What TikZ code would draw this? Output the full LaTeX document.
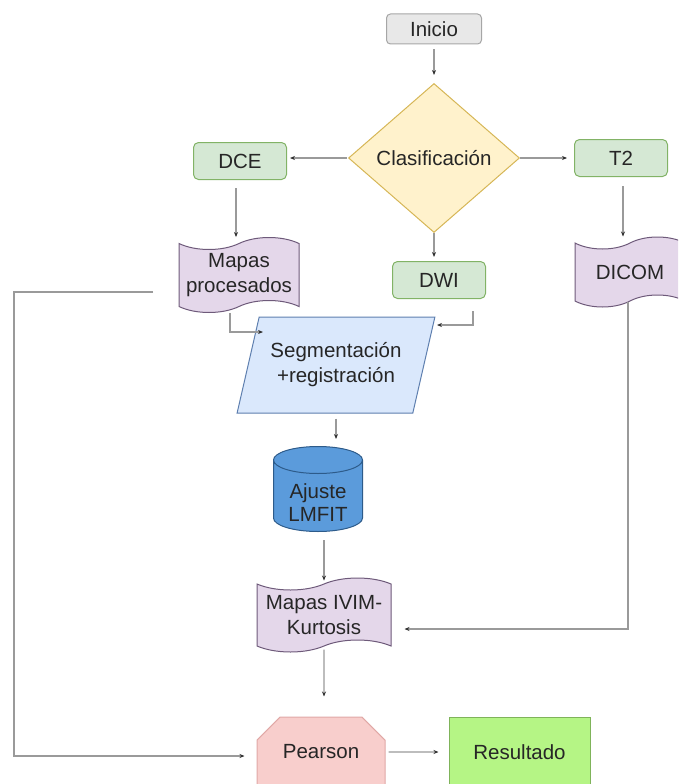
\documentclass[tikz,border=0pt]{standalone}
\usepackage{fontspec}
\setmainfont{Liberation Sans}
\usetikzlibrary{shapes.geometric,shapes.symbols,shapes.misc,arrows.meta,calc}

\definecolor{txt}{HTML}{262626}
\definecolor{linegray}{HTML}{9A9A9A}
\definecolor{tipgray}{HTML}{303030}
\definecolor{startfill}{HTML}{E8E8E8}
\definecolor{startline}{HTML}{A6A6A6}
\definecolor{greenfill}{HTML}{D5E8D4}
\definecolor{greenline}{HTML}{82B366}
\definecolor{yellowfill}{HTML}{FFF2CC}
\definecolor{yellowline}{HTML}{D6B656}
\definecolor{lilacfill}{HTML}{E4D7EA}
\definecolor{lilacline}{HTML}{6E5A7A}
\definecolor{bluefill}{HTML}{DAE8FC}
\definecolor{blueline}{HTML}{5E7FAF}
\definecolor{dbfill}{HTML}{5B9BDB}
\definecolor{dbline}{HTML}{2D5B8A}
\definecolor{pinkfill}{HTML}{F8CECC}
\definecolor{pinkline}{HTML}{E0A8A6}
\definecolor{limefill}{HTML}{B5F585}
\definecolor{limeline}{HTML}{7FB35A}

\tikzset{
  startbox/.style={draw=startline, fill=startfill, line width=1pt, rounded corners=4pt,
    minimum width=95pt, minimum height=30pt, inner sep=0pt},
  modality/.style={draw=greenline, fill=greenfill, line width=1pt, rounded corners=5pt,
    minimum width=93pt, minimum height=37pt, inner sep=0pt},
  decision/.style={diamond, draw=yellowline, fill=yellowfill, line width=1pt,
    minimum width=171pt, minimum height=149pt, inner sep=0pt},
  document/.style={tape, draw=lilacline, fill=lilacfill, line width=1pt, align=center,
    tape bend top=in and out, tape bend bottom=in and out, tape bend height=12pt, inner sep=0pt},
  process/.style={trapezium, trapezium left angle=67, trapezium right angle=113,
    trapezium stretches=true, draw=blueline, fill=bluefill, line width=1pt, align=center,
    minimum width=198pt, minimum height=96pt, inner sep=0pt},
  database/.style={cylinder, shape border rotate=90, aspect=0.45, draw=dbline, fill=dbfill,
    line width=1pt, minimum width=89pt, minimum height=85pt, inner sep=0pt},
  loopbox/.style={chamfered rectangle, chamfered rectangle corners={north west,north east},
    chamfered rectangle xsep=18pt, chamfered rectangle ysep=16pt, draw=pinkline, fill=pinkfill,
    line width=1pt, minimum width=128pt, minimum height=70pt, inner sep=0pt},
  endbox/.style={draw=limeline, fill=limefill, line width=1pt,
    minimum width=141pt, minimum height=70pt, inner sep=0pt},
  conn/.style={draw=linegray, line width=1.2pt, shorten <=5pt, shorten >=6pt,
    -{Stealth[length=5pt,width=4pt,color=tipgray]}}
}

\begin{document}
\begin{tikzpicture}[x=1pt,y=-1pt,font=\fontsize{20.5}{25}\selectfont,text=txt]
\useasboundingbox (0,0) rectangle (678,784);
\clip (0,0) rectangle (678,784);

% boxes
\node[startbox] (inicio) at (434,29) {Inicio};
\node[decision] (clasif) at (434,158) {Clasificación};
\node[modality] (dce) at (240,161) {DCE};
\node[modality] (t2) at (621,158) {T2};
\node[modality] (dwi) at (439,280) {DWI};
\node[document, minimum width=120pt, minimum height=75pt] (mapas) at (239,275) {Mapas\\procesados};
\node[document, minimum width=110pt, minimum height=70pt] (dicom) at (630,272) {DICOM};
\node[process] (seg) at (336,365) {Segmentación\\+registración};
\node[database] (ajuste) at (318,496) {\parbox[c][44pt][b]{60pt}{\centering\fontsize{20.5}{23}\selectfont Ajuste\\LMFIT\par\vspace*{-3pt}}};
\node[document, minimum width=134pt, minimum height=74pt] (ivim) at (324,615) {Mapas IVIM-\\Kurtosis};
\node[loopbox] (pearson) at (321,752) {Pearson};
\node[endbox] (resultado) at (519.5,752) {Resultado};

% arrows
\draw[conn, shorten >=8pt] (inicio) -- (clasif);
\draw[conn, shorten <=1pt, shorten >=3pt] (clasif) -- (clasif -| dce.east);
\draw[conn, shorten <=0pt, shorten >=7pt] (clasif) -- (t2);
\draw[conn, shorten <=0pt, shorten >=4pt] (clasif) -- (clasif |- dwi.north);
\draw[conn, shorten <=8pt] ([xshift=-4pt]dce.south) -- ([xshift=-4pt]dce.south |- mapas.north);
\draw[conn, shorten <=9pt] ([xshift=2pt]t2.south) -- ([xshift=2pt]t2.south |- dicom.north);
\draw[conn, shorten <=6pt, shorten >=0pt] ([xshift=-9pt]mapas.south) |- ($(seg.center)+(-73,-33)$);
\draw[conn, shorten <=12pt, shorten >=0pt] ([xshift=34pt]dwi.south) |- ($(seg.center)+(101,-40)$);
\draw[conn, shorten >=7pt] (seg) -- (seg |- ajuste.north);
\draw[conn, shorten <=8pt, shorten >=3pt] (ivim.north |- ajuste.south) -- (ivim.north);
\draw[conn, shorten <=3pt, shorten >=20pt] (ivim) -- (ivim |- pearson.north);
\draw[conn, shorten <=1pt, shorten >=13pt] ([xshift=-2pt]dicom.south) |- ($(ivim.east)+(0,14)$);
% loose line from the left
\coordinate (libre) at (153,292);
\coordinate (rail) at (14,292);
\draw[conn, shorten <=0pt, shorten >=12pt] (libre) -- (rail) |- ($(pearson.west)+(0,4)$);
\draw[conn, shorten <=3pt, shorten >=10pt] (pearson) -- (resultado);

\end{tikzpicture}
\end{document}
